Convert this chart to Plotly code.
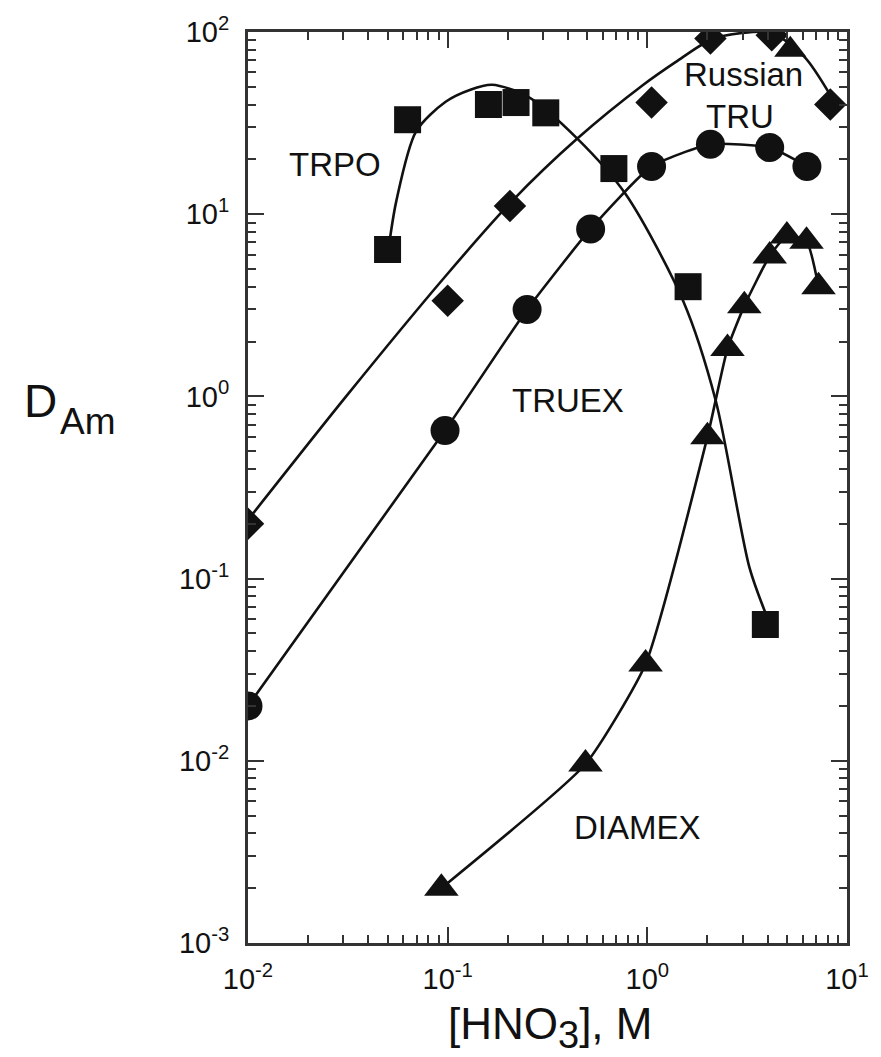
import plotly.graph_objects as go

# ---- data ----
trpo_x = [0.050, 0.063, 0.16, 0.22, 0.31, 0.68, 1.6, 3.9]
trpo_y = [6.4, 33, 40, 41, 36, 17.8, 4.0, 0.056]
trpo_fit_x = [0.0505, 0.0553, 0.0695, 0.0977, 0.130, 0.167, 0.252, 0.446, 0.778, 1.51, 2.20, 3.24, 3.88]
trpo_fit_y = [6.4, 11.8, 28.5, 41.4, 48.2, 51.3, 44.2, 26.0, 12.9, 3.35, 0.95, 0.116, 0.066]

rus_x = [0.01, 0.10, 0.205, 1.05, 2.07, 4.2, 8.25]
rus_y = [0.20, 3.35, 11.1, 41, 92, 96, 40]
rus_tri_x = [5.2]
rus_tri_y = [80]
rus_fit_x = [0.01, 0.031, 0.0977, 0.21, 0.446, 0.955, 1.39, 2.07, 2.98, 4.2, 6.12, 8.25]
rus_fit_y = [0.21, 1.0, 4.58, 11.8, 26.0, 51.3, 68.5, 90.4, 98.8, 98.8, 73, 45]

truex_x = [0.01, 0.097, 0.25, 0.52, 1.05, 2.07, 4.1, 6.3]
truex_y = [0.02, 0.65, 3.0, 8.3, 18.3, 24.2, 23.2, 18.3]

diamex_x = [0.093, 0.49, 0.98, 2.0, 2.52, 3.06, 4.1, 5.0, 6.27, 7.2]
diamex_y = [0.002, 0.0096, 0.034, 0.60, 1.83, 3.14, 5.9, 7.6, 7.1, 4.0]

x_tick_vals = [0.01, 0.1, 1, 10]
x_tick_text = ["10<sup>-2</sup>", "10<sup>-1</sup>", "10<sup>0</sup>", "10<sup>1</sup>"]
y_tick_vals = [0.001, 0.01, 0.1, 1, 10, 100]
y_tick_text = ["10<sup>-3</sup>", "10<sup>-2</sup>", "10<sup>-1</sup>", "10<sup>0</sup>", "10<sup>1</sup>", "10<sup>2</sup>"]

x_minor = [m * 10.0 ** e for e in range(-2, 1) for m in range(2, 10)]
y_minor = [m * 10.0 ** e for e in range(-3, 2) for m in range(2, 10)]

INK = "#111111"
FONT = "Liberation Sans, Arial, sans-serif"

fig = go.Figure()

line_style = dict(color=INK, width=2.6, shape="spline", smoothing=0.8)

fig.add_trace(go.Scatter(x=trpo_fit_x, y=trpo_fit_y, mode="lines", line=line_style, hoverinfo="skip"))
fig.add_trace(go.Scatter(x=rus_fit_x, y=rus_fit_y, mode="lines", line=line_style, hoverinfo="skip"))
fig.add_trace(go.Scatter(x=truex_x, y=truex_y, mode="lines",
                         line=dict(color=INK, width=2.6, shape="spline", smoothing=0.5), hoverinfo="skip"))
fig.add_trace(go.Scatter(x=diamex_x, y=diamex_y, mode="lines",
                         line=dict(color=INK, width=2.6, shape="spline", smoothing=0.5), hoverinfo="skip"))

fig.add_trace(go.Scatter(x=trpo_x, y=trpo_y, mode="markers", name="TRPO",
                         marker=dict(symbol="square", size=27, color=INK)))
fig.add_trace(go.Scatter(x=rus_x, y=rus_y, mode="markers", name="Russian TRU",
                         marker=dict(symbol="diamond", size=25, color=INK)))
fig.add_trace(go.Scatter(x=rus_tri_x, y=rus_tri_y, mode="markers", name="Russian TRU (tri)",
                         marker=dict(symbol="triangle-up", size=28, color=INK)))
fig.add_trace(go.Scatter(x=truex_x, y=truex_y, mode="markers", name="TRUEX",
                         marker=dict(symbol="circle", size=29, color=INK)))
fig.add_trace(go.Scatter(x=diamex_x, y=diamex_y, mode="markers", name="DIAMEX",
                         marker=dict(symbol="triangle-up", size=30, color=INK)))

axis_common = dict(
    showline=True, linecolor="#333333", linewidth=3, mirror="allticks",
    ticks="inside", ticklen=16, tickwidth=2, tickcolor="#333333",
    showgrid=False, zeroline=False,
    tickfont=dict(family=FONT, size=29, color=INK),
)

fig.update_xaxes(type="log", range=[-2, 1], tickmode="array",
                 tickvals=x_tick_vals, ticktext=x_tick_text,
                 minor=dict(tickmode="array", tickvals=x_minor, ticks="inside",
                            ticklen=8, tickwidth=2, tickcolor="#333333", showgrid=False),
                 ticklabelstandoff=8,
                 **axis_common)
fig.update_yaxes(type="log", range=[-3, 2], tickmode="array",
                 tickvals=y_tick_vals, ticktext=y_tick_text,
                 minor=dict(tickmode="array", tickvals=y_minor, ticks="inside",
                            ticklen=8, tickwidth=2, tickcolor="#333333", showgrid=False),
                 ticklabelstandoff=10,
                 **axis_common)

label_font = dict(family=FONT, size=33, color=INK)
annotations = [
    dict(text="TRPO", x=0.1445, y=0.855),
    dict(text="Russian", x=0.828, y=0.953),
    dict(text="TRU", x=0.821, y=0.907),
    dict(text="TRUEX", x=0.534, y=0.595),
    dict(text="DIAMEX", x=0.650, y=0.127),
]
for a in annotations:
    fig.add_annotation(xref="paper", yref="paper", showarrow=False,
                       xanchor="center", yanchor="middle", font=label_font, **a)

# y-axis title D_Am (main letter + subscript)
fig.add_annotation(xref="paper", yref="paper", showarrow=False,
                   text="D", x=-0.3465, y=0.5947,
                   xanchor="center", yanchor="middle",
                   font=dict(family=FONT, size=46, color=INK))
fig.add_annotation(xref="paper", yref="paper", showarrow=False,
                   text="Am", x=-0.317, y=0.5728,
                   xanchor="left", yanchor="middle",
                   font=dict(family=FONT, size=37, color=INK))

# x-axis title
fig.add_annotation(xref="paper", yref="paper", showarrow=False,
                   text="[HNO<sub><span style='font-size:38px'>3</span></sub>], M",
                   x=0.505, y=-0.093,
                   xanchor="center", yanchor="middle",
                   font=dict(family=FONT, size=44, color=INK))

fig.update_layout(
    width=881, height=1057,
    margin=dict(l=248, r=24, t=30, b=114),
    paper_bgcolor="white", plot_bgcolor="white",
    showlegend=False,
)

fig.write_html("out.html")
